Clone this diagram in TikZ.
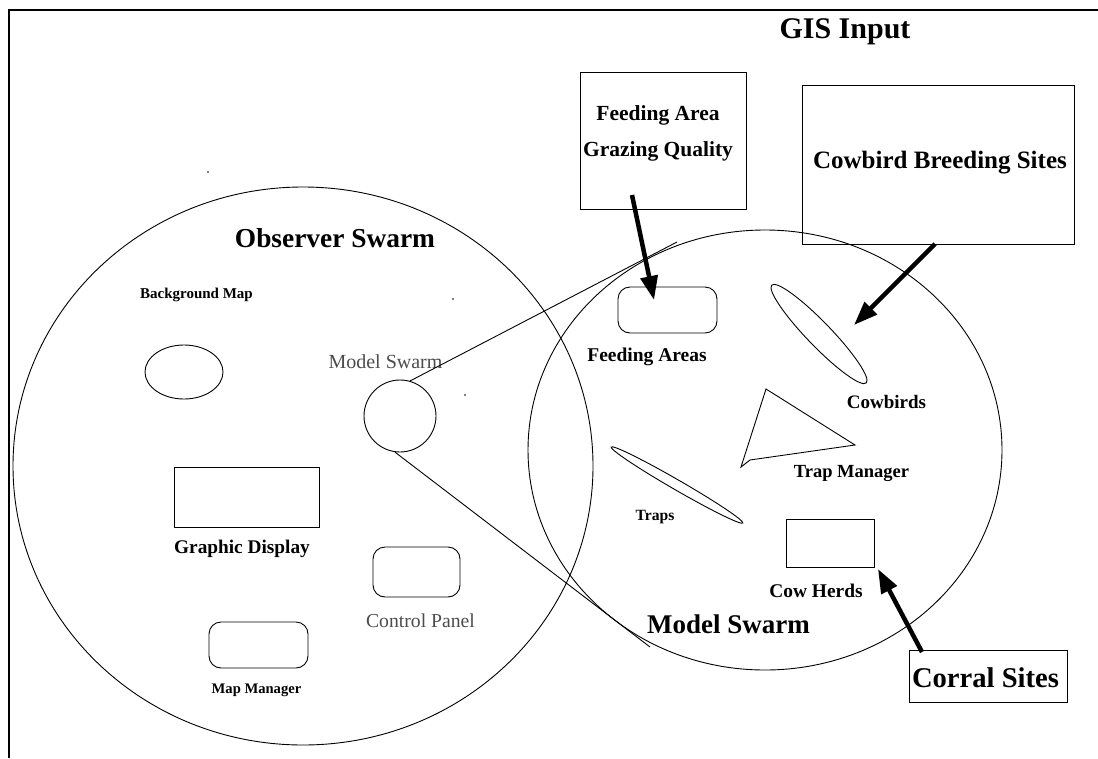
\documentclass[tikz,border=0pt]{standalone}
\usepackage{fontspec}
\setmainfont{Liberation Serif}
\usetikzlibrary{shapes.geometric,arrows.meta}
\newcommand{\fsz}[1]{\fontsize{#1}{#1}\selectfont}
\tikzset{
  thin line/.style={line width=0.9pt},
  plainbox/.style={draw,thin line,inner sep=0pt},
  roundbox/.style={plainbox,rounded corners=12pt},
  lens/.style={draw,thin line,ellipse,inner sep=0pt},
  lbl/.style={inner sep=0pt,anchor=base,font=\bfseries},
  graylbl/.style={inner sep=0pt,anchor=base,text=black!70},
  bigarrow/.style={line width=4.5pt,-{Triangle[length=24pt,width=17pt]}}
}
\begin{document}
\begin{tikzpicture}[x=1pt,y=-1pt]
    \useasboundingbox (0,0) rectangle (1098,758);
    \draw[line width=2pt] (9,758)--(9,10)--(1098,10);
    % the two swarms
    \draw[thin line] (303,466) ellipse [x radius=290,y radius=279];
    \draw[thin line] (765,450) ellipse [x radius=237,y radius=220];
    % observer swarm
    \node[lbl] (obs) at (335,247) {\fsz{27.4}Observer Swarm};
    \node[lbl] (bglbl) at (196.5,298) {\fsz{15}Background Map};
    \node[lens,minimum width=78,minimum height=54] (bg) at (184,372) {};
    \node[plainbox,minimum width=145,minimum height=60] (gd) at (246.5,497) {};
    \node[lbl] (gdlbl) at (242,553) {\fsz{19.3}Graphic Display};
    \node[roundbox,minimum width=87,minimum height=50] (cp) at (416.5,572) {};
    \node[graylbl] (cplbl) at (420.5,627) {\fsz{19.7}Control Panel};
    \node[roundbox,minimum width=99,minimum height=46] (mm) at (258.5,645) {};
    \node[lbl] (mmlbl) at (256.5,693) {\fsz{14.6}Map Manager};
    \node[graylbl] (mslbl) at (385.5,368) {\fsz{20}Model Swarm};
    \node[draw,thin line,circle,minimum size=72,inner sep=0pt] (ms) at (400,416) {};
    \coordinate (zt) at (677,242);
    \coordinate (zb) at (650,647);
    \draw[thin line] (ms.74)--(zt);
    \draw[thin line] (ms.-98)--(zb);
    % model swarm
    \node[roundbox,minimum width=99,minimum height=46] (fa) at (667.5,310) {};
    \node[lbl] (falbl) at (647,361) {\fsz{19.5}Feeding Areas};
    \node[lens,minimum width=136,minimum height=24,rotate=-46] (cw) at (819,334) {};
    \node[lbl] (cwlbl) at (886.5,408) {\fsz{19}Cowbirds};
    \draw[thin line] (766,389)--(855,445)--(750,460)--(741,467)--cycle;
    \node[lbl] (tmlbl) at (851.5,477) {\fsz{18.5}Trap Manager};
    \node[lens,minimum width=152,minimum height=10,rotate=-30] (tr) at (677,485) {};
    \node[lbl] (trlbl) at (655,520) {\fsz{15.6}Traps};
    \node[plainbox,minimum width=88,minimum height=48] (ch) at (830,543) {};
    \node[lbl] (chlbl) at (816,597) {\fsz{19.4}Cow Herds};
    \node[lbl] (mdl) at (728.5,633) {\fsz{27}Model Swarm};
    % gis input
    \node[lbl] (gis) at (845,38) {\fsz{30}GIS Input};
    \node[plainbox,minimum width=166,minimum height=137] (gq) at (663,140.5) {};
    \node[lbl] (gq1) at (658,120) {\fsz{21.5}Feeding Area};
    \node[lbl] (gq2) at (658,156) {\fsz{21.5}Grazing Quality};
    \node[plainbox,minimum width=272,minimum height=159] (cb) at (938,164.5) {};
    \node[lbl] (cblbl) at (940,168) {\fsz{25}Cowbird Breeding Sites};
    \node[plainbox,minimum width=158,minimum height=52] (cs) at (988,676) {};
    \node[lbl] (cslbl) at (985.5,687) {\fsz{28.6}Corral Sites};
    \coordinate (a1s) at (632,195);
    \coordinate (a1e) at (654,300);
    \coordinate (a2s) at (935,244);
    \coordinate (a2e) at (854,325);
    \coordinate (a3s) at (922,652);
    \coordinate (a3e) at (878,569);
    \draw[bigarrow] (a1s)--(a1e);
    \draw[bigarrow] (a2s)--(a2e);
    \draw[bigarrow] (a3s)--(a3e);
    % specks
    \fill (208,172) circle [radius=0.8];
    \fill (453,299) circle [radius=0.8];
    \fill (465,395) circle [radius=0.8];
\end{tikzpicture}
\end{document}
